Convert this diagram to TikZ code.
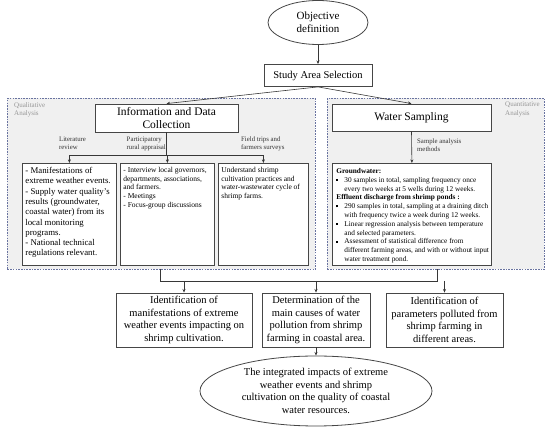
\documentclass[tikz,border=0pt]{standalone}
\usepackage{fontspec}
\setmainfont{Liberation Serif}
\usetikzlibrary{arrows.meta,shapes.geometric}
\definecolor{regionblue}{RGB}{105,115,160}
\definecolor{regionfill}{RGB}{240,240,240}
\definecolor{boxline}{RGB}{70,70,70}
\definecolor{labelgray}{RGB}{150,150,150}
\definecolor{conncol}{RGB}{55,55,55}
\newcommand{\fs}[2]{\fontsize{#1}{#2}\selectfont}
\newcommand{\topbox}[3]{\parbox[c][#2][t]{#1}{\raggedright #3}}
\newcommand{\sqb}{\raisebox{1.4pt}{\rule{1.9pt}{1.9pt}}}
\begin{document}
\begin{tikzpicture}[x=1pt,y=-1pt,
  region/.style={draw=regionblue, fill=regionfill, line width=0.9pt, dash pattern=on 1.6pt off 1.1pt, inner sep=0pt},
  box/.style={draw=boxline, fill=white, line width=0.8pt, inner sep=0pt},
  cbox/.style={box, align=center},
  ebox/.style={ellipse, draw=boxline, fill=white, line width=0.8pt, inner sep=0pt, align=center},
  conn/.style={draw=conncol, line width=0.6pt},
  arr/.style={conn, -{Stealth[length=3.6pt,width=3pt]}},
  lbl/.style={font=\fs{6.8}{7.8}, text=black!80, align=left, inner sep=0pt},
  areatxt/.style={font=\fs{7}{8.4}, text=labelgray, align=left, inner sep=0pt}
]
\useasboundingbox (0,0) rectangle (550,430);

% regions
\node[region, anchor=north west, minimum width=308pt, minimum height=171pt] (qual) at (7,98) {};
\node[region, anchor=north west, minimum width=217pt, minimum height=171pt] (quant) at (327,98) {};
\node[areatxt, anchor=north west] (qualtxt) at (14,102) {Qualitative\\Analysis};
\node[areatxt, anchor=north west] (quanttxt) at (505,102) {Quantitative\\Analysis};

% top
\node[ebox, minimum width=100pt, minimum height=44pt, font=\fs{11}{13}] (obj) at (318,22.5) {Objective\\definition};
\node[cbox, minimum width=108pt, minimum height=22pt, font=\fs{10.5}{12.5}] (study) at (318,75.5) {Study Area Selection};

\node[cbox, minimum width=143pt, minimum height=28pt, font=\fs{11.5}{13}] (info) at (166.5,118) {Information and Data\\Collection};
\node[cbox, minimum width=159pt, minimum height=27pt, font=\fs{11.5}{13}] (water) at (411.5,117.5) {Water Sampling};

% qualitative boxes
\node[box, anchor=north west, inner xsep=3pt, inner ysep=4pt] (lit) at (22,163)
  {\topbox{88pt}{94pt}{\fs{8.8}{10.3}- Manifestations of\\extreme weather events.\\- Supply water quality's\\results (groundwater,\\coastal water) from its\\local monitoring\\programs.\\- National technical\\regulations relevant.}};
\node[box, anchor=north west, inner xsep=3pt, inner ysep=4pt] (part) at (120,163)
  {\topbox{88pt}{94pt}{\fs{7.5}{8.6}- Interview local governors,\\departments, associations,\\and farmers.\\- Meetings\\- Focus-group discussions}};
\node[box, anchor=north west, inner xsep=3pt, inner ysep=4pt] (field) at (218,163)
  {\topbox{84pt}{94pt}{\fs{7.5}{8.6}Understand shrimp\\cultivation practices and\\water-wastewater cycle of\\shrimp farms.}};

% quantitative box
\node[box, anchor=north west, inner xsep=4pt, inner ysep=4pt] (samp) at (332,163)
  {\topbox{151pt}{94pt}{\fs{7.3}{8.8}\begin{tabular}{@{}p{8pt}@{}l@{}}
  \multicolumn{2}{@{}l}{\textbf{Groundwater:}}\\
  \sqb & 30 samples in total, sampling frequency once\\
   & every two weeks at 5 wells during 12 weeks.\\
  \multicolumn{2}{@{}l}{\textbf{Effluent discharge from shrimp ponds :}}\\
  \sqb & 290 samples in total, sampling at a draining ditch\\
   & with frequency twice a week during 12 weeks.\\
  \sqb & Linear regression analysis between temperature\\
   & and selected parameters.\\
  \sqb & Assessment of statistical difference from\\
   & different farming areas, and with or without input\\
   & water treatment pond.
  \end{tabular}}};

% result boxes
\node[cbox, minimum width=136pt, minimum height=54pt, font=\fs{10.5}{12.6}] (res1) at (184,320)
  {Identification of\\manifestations of extreme\\weather events impacting on\\shrimp cultivation.};
\node[cbox, minimum width=108pt, minimum height=54pt, font=\fs{10.5}{12.6}] (res2) at (316,320)
  {Determination of the\\main causes of water\\pollution from shrimp\\farming in coastal area.};
\node[cbox, minimum width=117pt, minimum height=54pt, font=\fs{10.5}{12.6}] (res3) at (444.5,320)
  {Identification of\\parameters polluted from\\shrimp farming in\\different areas.};
\node[ebox, minimum width=232pt, minimum height=70pt, font=\fs{10.5}{12.6}] (final) at (316,391)
  {The integrated impacts of extreme\\weather events and shrimp\\cultivation on the quality of coastal\\water resources.};

% labels
\node[lbl, anchor=north west] (lbllit) at (59,137) {Literature\\review};
\node[lbl, anchor=north east] (lblpart) at (166,137) {Participatory\\rural appraisal};
\node[lbl, anchor=north west] (lblfield) at (241,137) {Field trips and\\farmers surveys};
\node[lbl, anchor=north west] (lblsamp) at (417,139) {Sample analysis\\methods};

% connectors
\draw[arr] (obj.south) -- (study.north);
\draw[arr] (study.south) -- (info.north);
\draw[arr] (study.south) -- (water.north);
\coordinate (ibr) at (166.5,155);
\draw[conn] (info.south) -- (ibr);
\draw[arr] (ibr) -| (lit.north);
\draw[arr] (ibr) -| (part.north);
\draw[arr] (ibr) -| (field.north);
\draw[arr] (water.south) -- (samp.north);

\coordinate (qdown) at (160,269);
\coordinate (hleft) at (160,281);
\coordinate (hright) at (437,281);
\coordinate (qtdown) at (437,269);
\draw[conn] (qdown) -- (hleft) -- (hright) -- (qtdown);
\draw[arr] (hleft -| res1.north) -- (res1.north);
\draw[arr] (hleft -| res2.north) -- (res2.north);
\draw[arr] (hleft -| res3.north) -- (res3.north);
\draw[arr] (res2.south) -- (final.north);
\end{tikzpicture}
\end{document}
